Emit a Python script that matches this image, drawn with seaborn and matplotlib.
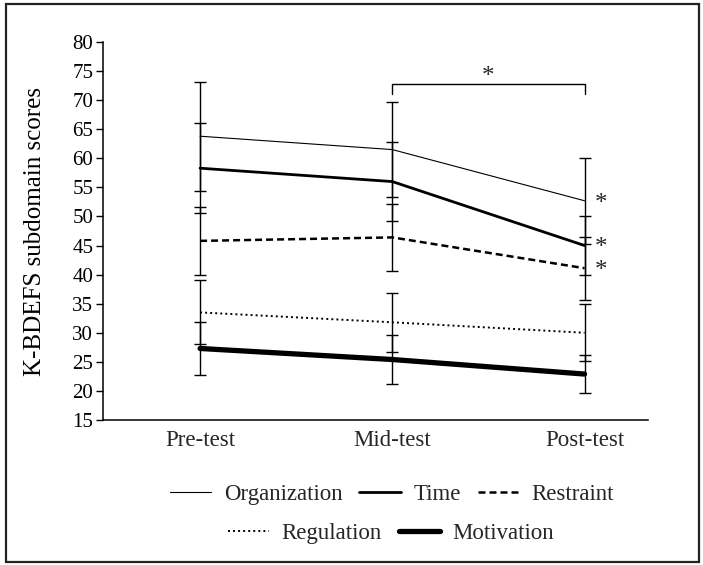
import numpy as np
import matplotlib
matplotlib.use("Agg")
import matplotlib.pyplot as plt
from matplotlib.lines import Line2D
from matplotlib.patches import Rectangle
import seaborn as sns

phases = ["Pre-test", "Mid-test", "Post-test"]
series = ["Organization", "Time", "Restraint", "Regulation", "Motivation"]
means = {
    "Organization": [63.8, 61.5, 52.7],
    "Time": [58.3, 56.0, 45.0],
    "Restraint": [45.8, 46.4, 41.1],
    "Regulation": [33.5, 31.8, 30.0],
    "Motivation": [27.3, 25.4, 22.9],
}
sds = {
    "Organization": [9.4, 8.1, 7.4],
    "Time": [7.7, 6.8, 5.1],
    "Restraint": [5.9, 5.8, 5.4],
    "Regulation": [5.5, 5.1, 4.9],
    "Motivation": [4.5, 4.2, 3.2],
}
yticks = list(range(15, 81, 5))
ylabel = "K-BDEFS subdomain scores"
sig_series = ["Organization", "Time", "Restraint"]

styles = {
    "Organization": dict(lw=0.8, ls="-"),
    "Time": dict(lw=2.0, ls="-"),
    "Restraint": dict(lw=1.8, ls=(0, (2.8, 1.6))),
    "Regulation": dict(lw=1.4, ls=(0, (1, 1.6))),
    "Motivation": dict(lw=3.8, ls="-"),
}

sns.set_theme(style="white")
plt.rcParams["font.family"] = ["Liberation Serif", "DejaVu Serif"]

fig = plt.figure(figsize=(7.03, 5.65), dpi=100)
ax = fig.add_axes([103 / 703, 1 - 420 / 565, 545 / 703, 378 / 565])

x = np.arange(len(phases))
for name in series:
    ax.errorbar(x, means[name], yerr=sds[name], fmt="none", ecolor="black",
                elinewidth=1.0, capsize=4.5, capthick=1.0, zorder=2)
for name in series:
    sns.lineplot(x=x, y=means[name], ax=ax, color="black", sort=False,
                 estimator=None, linewidth=styles[name]["lw"],
                 linestyle=styles[name]["ls"], zorder=3)

ax.set_xlim(-0.505, 2.33)
ax.set_ylim(15, 80)
ax.set_yticks(yticks)
ax.set_xticks(x)
ax.set_xticklabels(phases, fontsize=16.5)
ax.tick_params(axis="x", length=0, pad=7)
ax.tick_params(axis="y", direction="out", length=5, width=1, pad=2,
               labelsize=15, left=True, colors="black")
for s in ["top", "right"]:
    ax.spines[s].set_visible(False)
for s in ["left", "bottom"]:
    ax.spines[s].set_color("black")
    ax.spines[s].set_linewidth(1.1)
ax.set_ylabel(ylabel, fontsize=18, color="black")
ax.yaxis.set_label_coords(-0.105, 0.5)
ax.grid(False)

# significance bracket between mid and post
ax.plot([1, 1, 2, 2], [71.0, 72.7, 72.7, 71.0], color="black", lw=1.0,
        clip_on=False)
ax.text(1.5, 74.0, "*", ha="center", va="center", fontsize=18)
for name in sig_series:
    ax.annotate("*", xy=(2, means[name][2]), xytext=(11.5, -2),
                textcoords="offset points", ha="center", va="center",
                fontsize=18)

def handle(name):
    return Line2D([], [], color="black", linewidth=styles[name]["lw"],
                  linestyle=styles[name]["ls"])

leg_kw = dict(loc="center", frameon=False, fontsize=16.5, handlelength=1.8,
              handletextpad=0.55, columnspacing=0.75)
fig.legend([handle(n) for n in series[:3]], series[:3],
           bbox_to_anchor=(392 / 703, 1 - 494 / 565), ncol=3, **leg_kw)
fig.legend([handle(n) for n in series[3:]], series[3:],
           bbox_to_anchor=(391 / 703, 1 - 533 / 565), ncol=2, **leg_kw)

fig.patches.append(Rectangle((6 / 703, 3 / 565), 693 / 703, 558 / 565,
                             transform=fig.transFigure, fill=False,
                             edgecolor="#222222", linewidth=1.6))

fig.savefig("out.png", dpi=100)
